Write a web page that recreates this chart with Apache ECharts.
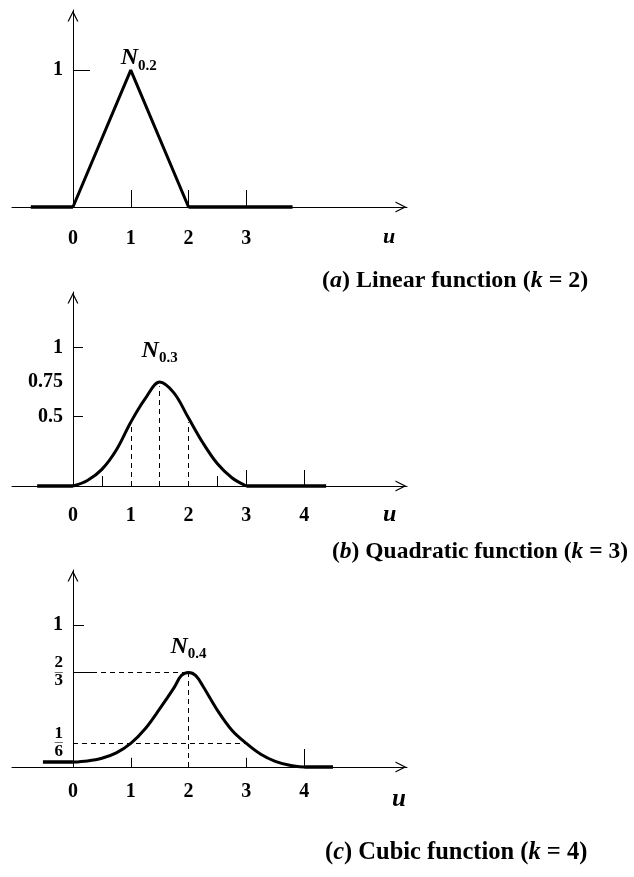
<!DOCTYPE html>
<html>
<head>
<meta charset="utf-8">
<script src="https://cdn.jsdelivr.net/npm/echarts@6/dist/echarts.min.js"></script>
<style>
  html, body { margin: 0; padding: 0; background: #fff; }
  #chart { width: 634px; height: 877px; }
</style>
</head>
<body>
<div id="chart"></div>
<script>
// Parameter range shared by the three panels
const uMin = -1.055;
const uMax = 5.78;

// (a) linear basis function N0,2 (k = 2)
const linearCurve = [[0, 0], [1, 1], [2, 0]];
const linearZero = [[-0.73, 0], [0, 0], [2, 0], [3.8, 0]];
const linearTickX = [1, 2, 3];
const linearLabelX = [0, 1, 2, 3];
const linearTickY = [1];
const linearLabelY = [1];

// (b) quadratic basis function N0,3 (k = 3)
const quadPeak = 0.75;
const quadCurve = [[0, 0], [0.25, 0.04], [0.5, 0.12], [0.75, 0.26], [1, 0.46],
  [1.25, 0.63], [1.5, quadPeak], [1.75, 0.67], [2, 0.49], [2.25, 0.31], [2.5, 0.16],
  [2.75, 0.06], [3, 0]];
const quadZero = [[-0.62, 0], [0, 0], [3, 0], [4.38, 0]];
const quadTickX = [3, 4];
const quadMinorTickX = [0.5, 2.5];
const quadLabelX = [0, 1, 2, 3, 4];
const quadTickY = [1, 0.5];
const quadLabelY = [1, 0.75, 0.5];
const quadGuideX = [1, 1.5, 2];

// (c) cubic basis function N0,4 (k = 4)
const cubicPeak = 2 / 3;
const cubicKnot = 1 / 6;
const cubicCurve = [[0, 0.035], [0.25, 0.043], [0.5, 0.062], [0.75, 0.1],
  [1, cubicKnot], [1.25, 0.27], [1.5, 0.41], [1.75, 0.56], [1.875, 0.645], [2, cubicPeak],
  [2.125, 0.645], [2.25, 0.57], [2.5, 0.4], [2.75, 0.26], [3, cubicKnot],
  [3.25, 0.09], [3.5, 0.04], [3.75, 0.013], [4, 0]];
const cubicZero = [[-0.52, 0.035], [0, 0.035], [4, 0], [4.5, 0]];
const cubicTickX = [4];
const cubicMinorTickX = [1, 3];
const cubicLabelX = [0, 1, 2, 3, 4];
const cubicTickY = [1];
const cubicLabelY = [1, cubicPeak, cubicKnot];

const SERIF = '"Liberation Serif", "DejaVu Serif", serif';
const ARROW = 'path://M5,0 L10,10 L8.8,10 L5,2.4 L1.2,10 L0,10 Z';
const GRID_LEFT = 12;
const GRID_WIDTH = 395;
// horizontal pixel distance from the grid's left edge to u = 0
const Y_AXIS_SHIFT = (0 - uMin) / (uMax - uMin) * GRID_WIDTH;

const panels = [
  { top: 10, height: 197, yMax: 1.44, labelMargin: 22 },
  { top: 292, height: 194, yMax: 1.40, labelMargin: 20 },
  { top: 570, height: 197, yMax: 1.39, labelMargin: 15 }
];

function axisLineStyle() {
  return {
    onZero: false,
    lineStyle: { color: '#000', width: 1 },
    symbol: ['none', ARROW],
    symbolSize: [11, 12],
    symbolOffset: [0, -6]
  };
}

function xAxisOf(i, ticks, labels, tickLen) {
  return {
    gridIndex: i, type: 'value', min: uMin, max: uMax, position: 'bottom',
    axisLine: axisLineStyle(),
    axisTick: { show: true, inside: true, length: tickLen, customValues: ticks,
      lineStyle: { color: '#000', width: 1 } },
    axisLabel: { customValues: labels, margin: panels[i].labelMargin, color: '#000',
      fontFamily: SERIF, fontWeight: 'bold', fontSize: 20 },
    splitLine: { show: false }
  };
}

function fracLabel(num, den) {
  return '{n|' + num + '}\n{b|\u2014}\n{d|' + den + '}';
}

function yAxisOf(i, ticks, labels, tickLen, formatter) {
  return {
    gridIndex: i, type: 'value', min: 0, max: panels[i].yMax,
    position: 'left', offset: -Y_AXIS_SHIFT,
    axisLine: axisLineStyle(),
    axisTick: { show: true, inside: true, length: tickLen, customValues: ticks,
      lineStyle: { color: '#000', width: 1 } },
    axisLabel: {
      customValues: labels, margin: 10, color: '#000', fontFamily: SERIF,
      fontWeight: 'bold', fontSize: 20,
      formatter: formatter || function (v) { return String(v); },
      rich: {
        n: { fontFamily: SERIF, fontWeight: 'bold', fontSize: 17, lineHeight: 13, align: 'center', color: '#000' },
        b: { fontFamily: SERIF, fontWeight: 'bold', fontSize: 8, lineHeight: 4, align: 'center', color: '#000' },
        d: { fontFamily: SERIF, fontWeight: 'bold', fontSize: 17, lineHeight: 15, align: 'center', color: '#000' }
      }
    },
    splitLine: { show: false }
  };
}

function nameLabel(sub, distance, dx) {
  return {
    show: true, position: 'top', distance: distance, offset: [dx, 0],
    formatter: '{n|N}{s|' + sub + '}',
    rich: {
      n: { fontFamily: SERIF, fontWeight: 'bold', fontStyle: 'italic', fontSize: 24, color: '#000', verticalAlign: 'bottom' },
      s: { fontFamily: SERIF, fontWeight: 'bold', fontSize: 15, color: '#000', verticalAlign: 'bottom', padding: [0, 0, -3, 0] }
    }
  };
}

const dashed = { color: '#000', width: 1, type: [5, 4] };
const solid = { color: '#000', width: 1, type: 'solid' };

function seg(x0, y0, x1, y1, style) {
  return [{ coord: [x0, y0], lineStyle: style }, { coord: [x1, y1] }];
}

function valueAt(curve, u) {
  const p = curve.find(function (d) { return d[0] === u; });
  return p ? p[1] : 0;
}

function curveSeries(i, data, smooth, marks, peak, sub, distance, dx) {
  return {
    type: 'line', xAxisIndex: i, yAxisIndex: i, data: data,
    smooth: smooth, symbol: 'none', clip: false, silent: true,
    lineStyle: { color: '#000', width: 3 },
    markLine: { silent: true, symbol: 'none', label: { show: false }, lineStyle: dashed,
      emphasis: { disabled: true }, data: marks },
    markPoint: { silent: true, symbol: 'circle', symbolSize: 0,
      data: [{ coord: peak }], label: nameLabel(sub, distance, dx) }
  };
}

// Flat parts of each basis function outside its support, drawn as two pieces
function zeroSeries(i, pts) {
  const data = [pts[0], pts[1], [pts[1][0], '-'], pts[2], pts[3]];
  return {
    type: 'line', xAxisIndex: i, yAxisIndex: i, data: data, connectNulls: false,
    symbol: 'none', clip: false, silent: true,
    lineStyle: { color: '#000', width: 3.5 }
  };
}

// Guide lines and extra short ticks
const quadMarks = quadGuideX.map(function (u) { return seg(u, 0, u, valueAt(quadCurve, u) - 0.03, dashed); })
  .concat(quadMinorTickX.map(function (u) { return seg(u, 0, u, 0.072, solid); }));
const cubicMarks = [
  seg(0, cubicPeak, 0.33, cubicPeak, solid),
  seg(0.33, cubicPeak, 2, cubicPeak, dashed),
  seg(0, cubicKnot, 3, cubicKnot, dashed),
  seg(2, 0, 2, cubicPeak, dashed)
].concat(cubicMinorTickX.map(function (u) { return seg(u, 0, u, 0.065, solid); }));

function caption(letter, text, kval, left, top, size) {
  return {
    left: left, top: top, padding: 0,
    text: '{p|(}{i|' + letter + '}{p|) ' + text + ' (}{i|k}{p| = ' + kval + ')}',
    textStyle: {
      rich: {
        p: { fontFamily: SERIF, fontWeight: 'bold', fontSize: size, color: '#000' },
        i: { fontFamily: SERIF, fontWeight: 'bold', fontStyle: 'italic', fontSize: size, color: '#000' }
      }
    }
  };
}

function uName(left, top, size) {
  return { type: 'text', left: left, top: top,
    style: { text: 'u', fill: '#000', font: 'italic bold ' + size + 'px ' + SERIF } };
}

const option = {
  backgroundColor: '#fff',
  animation: false,
  grid: panels.map(function (p) {
    return { left: GRID_LEFT, width: GRID_WIDTH, top: p.top, height: p.height, containLabel: false, outerBoundsMode: 'none' };
  }),
  xAxis: [
    xAxisOf(0, linearTickX, linearLabelX, 17),
    xAxisOf(1, quadTickX, quadLabelX, 16),
    xAxisOf(2, cubicTickX, cubicLabelX, 18)
  ],
  yAxis: [
    yAxisOf(0, linearTickY, linearLabelY, 17),
    yAxisOf(1, quadTickY, quadLabelY, 10),
    yAxisOf(2, cubicTickY, cubicLabelY, 11, function (v) {
      if (Math.abs(v - cubicPeak) < 1e-6) return fracLabel(2, 3);
      if (Math.abs(v - cubicKnot) < 1e-6) return fracLabel(1, 6);
      return String(v);
    })
  ],
  title: [
    caption('a', 'Linear function', 2, 322, 269, 24),
    caption('b', 'Quadratic function', 3, 332, 540, 23.5),
    caption('c', 'Cubic function', 4, 325, 840, 24.5)
  ],
  graphic: [
    uName(383, 226, 22),
    uName(383, 503, 24),
    uName(392, 787, 25)
  ],
  series: [
    curveSeries(0, linearCurve, false, [], [1, 1], '0.2', 0, 8),
    curveSeries(1, quadCurve, 0.35, quadMarks, [1.5, quadPeak], '0.3', 19, 0),
    curveSeries(2, cubicCurve, 0.35, cubicMarks, [2, cubicPeak], '0.4', 14, 0),
    zeroSeries(0, linearZero),
    zeroSeries(1, quadZero),
    zeroSeries(2, cubicZero)
  ]
};

const chart = echarts.init(document.getElementById('chart'), null, { renderer: 'canvas' });
chart.setOption(option);
</script>
</body>
</html>
